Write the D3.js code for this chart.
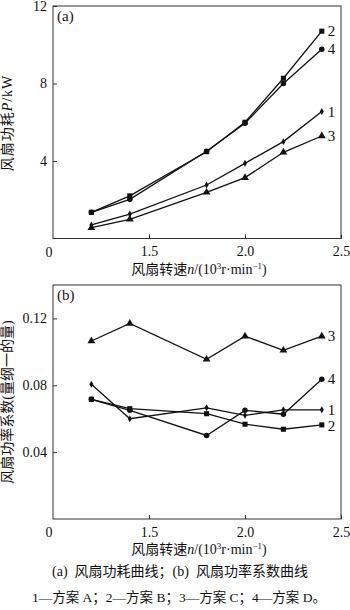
<!DOCTYPE html>
<html>
<head>
<meta charset="utf-8">
<script src="https://cdn.jsdelivr.net/npm/d3@7"></script>
<style>
body { margin: 0; background: #fff; }
svg text { font-family: "Liberation Serif", "Noto Sans CJK SC", serif; fill: #111; }
</style>
</head>
<body>
<div id="chart"></div>
<script>
// fan speed, 10^3 r/min
var speeds = [1.2, 1.4, 1.8, 2.0, 2.2, 2.4];
var seriesNames = ["1", "2", "3", "4"];
var markers = ["diamond", "square", "triangle", "circle"];

// (a) fan power P / kW
var power1 = [0.70, 1.26, 2.76, 3.88, 5.00, 6.55];
var power2 = [1.35, 2.20, 4.48, 6.00, 8.27, 10.70];
var power3 = [0.56, 0.99, 2.38, 3.14, 4.45, 5.29];
var power4 = [1.35, 2.02, 4.50, 5.95, 8.00, 9.77];

// (b) fan power coefficient
var coef1 = [0.0806, 0.0600, 0.0665, 0.0620, 0.0653, 0.0653];
var coef2 = [0.0716, 0.0660, 0.0630, 0.0567, 0.0537, 0.0563];
var coef3 = [0.1065, 0.1170, 0.0955, 0.1094, 0.1009, 0.1094];
var coef4 = [0.0716, 0.0650, 0.0500, 0.0650, 0.0627, 0.0836];

var xTicks = [1.5, 2.0, 2.5];
var powerTicks = [4, 8, 12];
var coefTicks = [0.04, 0.08, 0.12];

var svg = d3.select("#chart").append("svg")
    .attr("width", 350)
    .attr("height", 610);

var left = 53, right = 341;
var serif = "'Liberation Serif', 'Noto Sans CJK SC', serif";

function drawPanel(cfg){
    var x = d3.scaleLinear().domain([1.0, 2.5]).range([left, right]);
    var y = d3.scaleLinear().domain(cfg.domain).range([cfg.bottom, cfg.top]);
    var g = svg.append("g");

    // frame
    g.append("rect")
        .attr("x", left).attr("y", cfg.top)
        .attr("width", right - left).attr("height", cfg.bottom - cfg.top)
        .attr("fill", "none").attr("stroke", "#333").attr("stroke-width", 1);

    // x ticks (inward)
    var xa = g.append("g")
        .attr("transform", "translate(0," + cfg.bottom + ")")
        .call(d3.axisBottom(x).tickValues(xTicks).tickFormat(d3.format(".1f")).tickSizeInner(-4).tickSizeOuter(0).tickPadding(8));
    xa.attr("font-family", serif).attr("font-size", 14);
    xa.select(".domain").remove();
    xa.selectAll("line").attr("stroke", "#333");

    // y ticks (inward)
    var ya = g.append("g")
        .attr("transform", "translate(" + left + ",0)")
        .call(d3.axisLeft(y).tickValues(cfg.ticks).tickFormat(cfg.fmt).tickSizeInner(-4).tickSizeOuter(0).tickPadding(6));
    ya.attr("font-family", serif).attr("font-size", 14);
    ya.select(".domain").remove();
    ya.selectAll("line").attr("stroke", "#333");

    // corner zero
    g.append("text").attr("x", 49).attr("y", cfg.bottom + 18)
        .attr("text-anchor", "middle").attr("font-size", 14).text("0");

    // panel tag
    g.append("text").attr("x", 57).attr("y", cfg.top + 15)
        .attr("font-size", 15).text(cfg.tag);

    var line = d3.line()
        .x(function(d){ return x(d[0]); })
        .y(function(d){ return y(d[1]); });

    cfg.series.forEach(function(vals, i){
        var pts = speeds.map(function(s, k){ return [s, vals[k]]; });
        g.append("path")
            .datum(pts)
            .attr("d", line)
            .attr("fill", "none")
            .attr("stroke", "#111")
            .attr("stroke-width", 1.3);

        var sym = {
            diamond: d3.symbol().type(d3.symbolDiamond).size(14),
            square: d3.symbol().type(d3.symbolSquare).size(26),
            triangle: d3.symbol().type(d3.symbolTriangle).size(26),
            circle: d3.symbol().type(d3.symbolCircle).size(24)
        }[markers[i]];

        g.selectAll(null).data(pts).enter().append("path")
            .attr("d", sym)
            .attr("transform", function(d){ return "translate(" + x(d[0]) + "," + y(d[1]) + ")"; })
            .attr("fill", "#111");

        var last = pts[pts.length - 1];
        g.append("text")
            .attr("x", x(last[0]) + 6)
            .attr("y", y(last[1]) + cfg.labelShift[i])
            .attr("dy", "0.35em")
            .attr("font-size", 15)
            .text(seriesNames[i]);
    });

    // x title
    var xt = g.append("text")
        .attr("x", 199).attr("y", cfg.bottom + 35)
        .attr("text-anchor", "middle").attr("font-size", 14);
    xt.append("tspan").text("风扇转速");
    xt.append("tspan").attr("font-style", "italic").text("n");
    xt.append("tspan").text("/(10");
    xt.append("tspan").attr("font-size", 9).attr("dy", -5).text("3");
    xt.append("tspan").attr("dy", 5).text("r·min");
    xt.append("tspan").attr("font-size", 9).attr("dy", -5).text("−1");
    xt.append("tspan").attr("dy", 5).text(")");

    // y title
    var yt = g.append("text")
        .attr("transform", "translate(12," + cfg.ylabelY + ") rotate(-90)")
        .attr("text-anchor", "middle").attr("font-size", cfg.ylabelSize)
        .attr("letter-spacing", cfg.ylabelSpacing);
    cfg.ylabel(yt);
}

drawPanel({
    top: 6, bottom: 238.5, domain: [0, 12], ticks: powerTicks,
    fmt: d3.format("d"), tag: "(a)",
    series: [power1, power2, power3, power4],
    labelShift: [0, 0, 0, 0],
    ylabelY: 123, ylabelSize: 14, ylabelSpacing: 1,
    ylabel: function(t){
        t.append("tspan").text("风扇功耗");
        t.append("tspan").attr("font-style", "italic").text("P");
        t.append("tspan").text("/kW");
    }
});

drawPanel({
    top: 285, bottom: 519, domain: [0, 0.14], ticks: coefTicks,
    fmt: d3.format(".2f"), tag: "(b)",
    series: [coef1, coef2, coef3, coef4],
    labelShift: [0, 1, 0, -1],
    ylabelY: 402, ylabelSize: 14, ylabelSpacing: 0,
    ylabel: function(t){
        t.text("风扇功率系数(量纲一的量)");
    }
});

// captions
svg.append("text").attr("x", 180).attr("y", 576)
    .attr("text-anchor", "middle").attr("font-size", 14)
    .attr("xml:space", "preserve")
    .text("(a)  风扇功耗曲线；(b)  风扇功率系数曲线");
svg.append("text").attr("x", 179).attr("y", 602)
    .attr("text-anchor", "middle").attr("font-size", 13.5)
    .text("1—方案 A；2—方案 B；3—方案 C；4—方案 D。");
</script>
</body>
</html>
